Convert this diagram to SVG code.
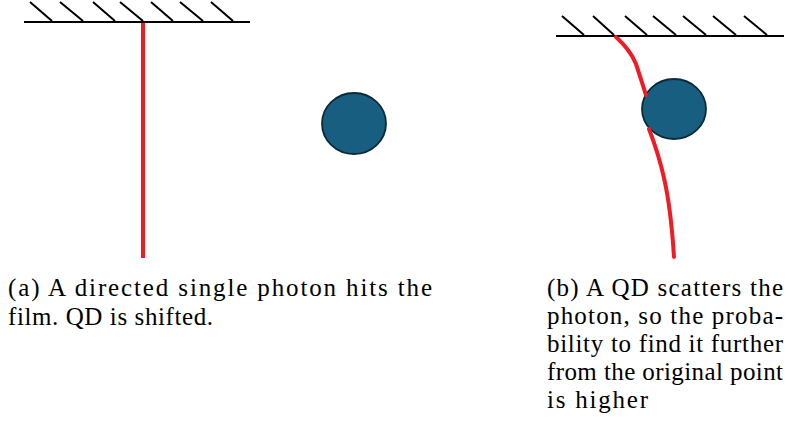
<svg xmlns="http://www.w3.org/2000/svg" width="797" height="424" viewBox="0 0 797 424">
<style>
.wall{stroke:#000;stroke-width:2;fill:none;stroke-linecap:butt}
.ray{stroke:#ee1c25;stroke-width:4;fill:none;stroke-linecap:round;stroke-linejoin:round}
.qd{fill:#175e80;stroke:#0c2a38;stroke-width:1.8}
.cap{font-family:"Liberation Serif","Times New Roman",serif;font-size:25px;fill:#000}
</style>
<rect width="797" height="424" fill="#fff"/>
<g id="wall-a">
<path class="wall" d="M24,22H250M30,2L52,21M60,2L83,21M93,2L115,21M120,2L143,21M151,2L173,21M180,2L203,21M211,2L233,21"/>
</g>
<g id="wall-b">
<path class="wall" d="M556,36H784M562,16L584,35M593,16L614,35M625,16L647,35M653,16L676,35M683,16L706,35M713,16L736,35M744,16L767,35"/>
</g>
<g id="qd-a"><ellipse class="qd" cx="354" cy="123.5" rx="32" ry="30.5"/></g>
<g id="qd-b"><ellipse class="qd" cx="674" cy="109" rx="32" ry="30"/></g>
<g id="connectors">
<path class="ray" d="M143,23V258" style="stroke-linecap:butt"/>
<path class="ray" d="M616,37C626,46 632,54 636,64C640,76 643,86 646,95"/>
<path class="ray" d="M649,129C654,142 660,160 664,178C669,200 672,225 674,257"/>
</g>
<g id="caption-a">
<text class="cap" x="8" y="296" textLength="424" lengthAdjust="spacing">(a) A directed single photon hits the</text>
<text class="cap" x="8" y="325" textLength="205" lengthAdjust="spacing">film. QD is shifted.</text>
</g>
<g id="caption-b">
<text class="cap" x="547" y="296" textLength="236" lengthAdjust="spacing">(b) A QD scatters the</text>
<text class="cap" x="547" y="324" textLength="236" lengthAdjust="spacing">photon, so the proba-</text>
<text class="cap" x="547" y="352" textLength="236" lengthAdjust="spacing">bility to find it further</text>
<text class="cap" x="547" y="380" textLength="236" lengthAdjust="spacing">from the original point</text>
<text class="cap" x="547" y="408" textLength="101" lengthAdjust="spacing">is higher</text>
</g>
</svg>
